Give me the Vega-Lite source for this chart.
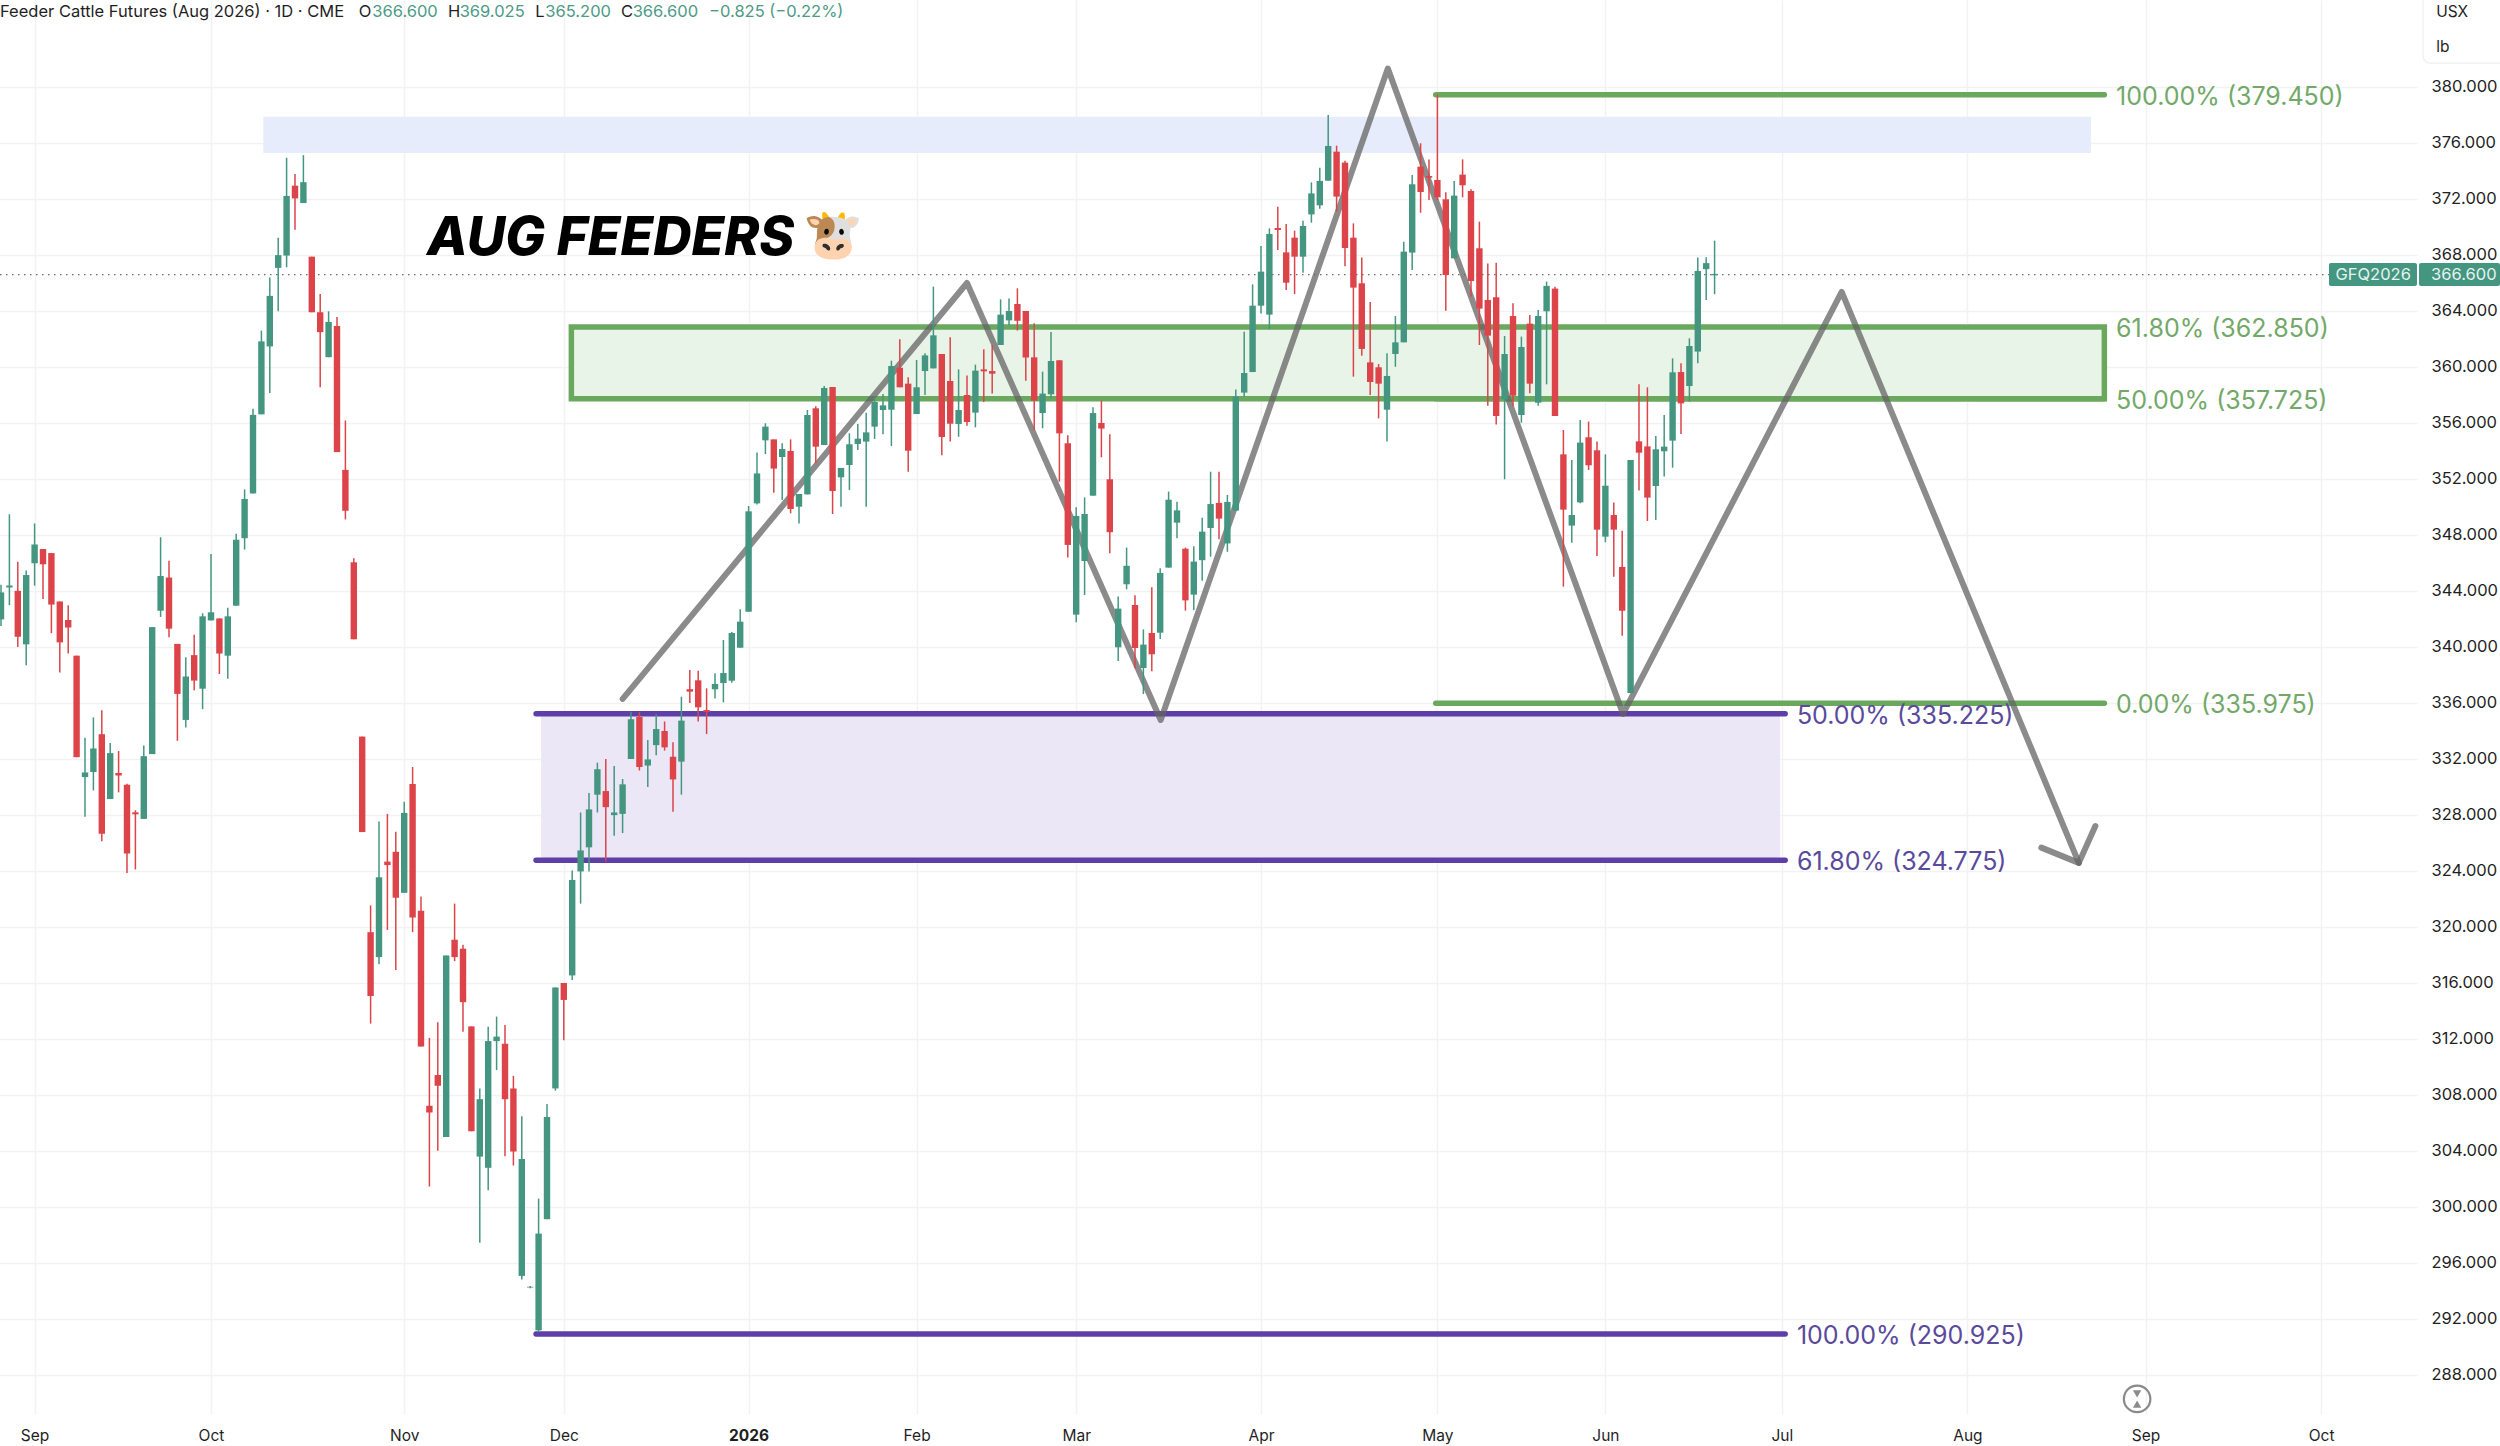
{
  "$schema": "https://vega.github.io/schema/vega-lite/v6.json",
  "width": 2417,
  "height": 1414,
  "autosize": {"type": "none"},
  "padding": {"left": 0, "top": 0, "right": 83, "bottom": 32},
  "background": "#ffffff",
  "config": {"view": {"stroke": null}, "text": {"font": "Inter"}},
  "datasets": {
    "candles": [
      {"bar":0,"o":341.97,"h":344.45,"l":341.5,"c":343.9},
      {"bar":1,"o":344.25,"h":349.48,"l":342.99,"c":344.4},
      {"bar":2,"o":344.01,"h":346.09,"l":340,"c":340.73},
      {"bar":3,"o":340.19,"h":345.47,"l":338.69,"c":345.14},
      {"bar":4,"o":345.98,"h":348.82,"l":344.38,"c":347.33},
      {"bar":5,"o":347,"h":347,"l":343.43,"c":345.91},
      {"bar":6,"o":346.71,"h":346.71,"l":340.99,"c":343.03},
      {"bar":7,"o":343.25,"h":343.25,"l":338.18,"c":340.33},
      {"bar":8,"o":341.93,"h":342.99,"l":339.53,"c":341.39},
      {"bar":9,"o":339.38,"h":339.38,"l":332.13,"c":332.13},
      {"bar":10,"o":330.71,"h":333.52,"l":327.87,"c":331.04},
      {"bar":11,"o":331.07,"h":334.97,"l":329.76,"c":332.75},
      {"bar":12,"o":333.77,"h":335.48,"l":326.12,"c":326.66},
      {"bar":13,"o":329.14,"h":333.15,"l":329.14,"c":332.42},
      {"bar":14,"o":331,"h":332.57,"l":329.62,"c":330.82},
      {"bar":15,"o":330.16,"h":330.24,"l":323.86,"c":325.25},
      {"bar":16,"o":328.19,"h":328.34,"l":324.11,"c":328.05},
      {"bar":17,"o":327.72,"h":332.97,"l":327.72,"c":332.2},
      {"bar":18,"o":332.35,"h":341.42,"l":332.35,"c":341.42},
      {"bar":19,"o":342.59,"h":347.84,"l":342.15,"c":345.07},
      {"bar":20,"o":344.96,"h":346.16,"l":340.7,"c":341.31},
      {"bar":21,"o":340.22,"h":340.22,"l":333.3,"c":336.65},
      {"bar":22,"o":334.79,"h":339.27,"l":334.25,"c":337.89},
      {"bar":23,"o":339.42,"h":340.88,"l":336.91,"c":337.6},
      {"bar":24,"o":337.02,"h":342.41,"l":335.56,"c":342.19},
      {"bar":25,"o":341.9,"h":346.64,"l":341.9,"c":342.48},
      {"bar":26,"o":342.04,"h":342.04,"l":338.07,"c":339.53},
      {"bar":27,"o":339.38,"h":342.81,"l":337.74,"c":342.19},
      {"bar":28,"o":342.95,"h":348.09,"l":342.95,"c":347.66},
      {"bar":29,"o":347.77,"h":351.26,"l":346.96,"c":350.57},
      {"bar":30,"o":350.97,"h":357.02,"l":350.97,"c":356.58},
      {"bar":31,"o":356.62,"h":362.6,"l":356.62,"c":361.83},
      {"bar":32,"o":361.47,"h":366.39,"l":358.15,"c":365.08},
      {"bar":33,"o":367.08,"h":369.23,"l":363.98,"c":367.99},
      {"bar":34,"o":367.96,"h":374.95,"l":367.12,"c":372.22},
      {"bar":35,"o":372.95,"h":373.79,"l":369.81,"c":372.04},
      {"bar":36,"o":371.71,"h":375.13,"l":371.71,"c":373.2},
      {"bar":37,"o":367.88,"h":367.88,"l":363.91,"c":363.91},
      {"bar":38,"o":363.91,"h":365.22,"l":358.55,"c":362.49},
      {"bar":39,"o":360.7,"h":363.98,"l":360.7,"c":363.22},
      {"bar":40,"o":362.93,"h":363.58,"l":353.92,"c":353.92},
      {"bar":41,"o":352.65,"h":356.18,"l":349.11,"c":349.73},
      {"bar":42,"o":346.05,"h":346.34,"l":340.55,"c":340.55},
      {"bar":43,"o":333.6,"h":333.6,"l":326.78,"c":326.78},
      {"bar":44,"o":319.63,"h":321.54,"l":313.1,"c":315.07},
      {"bar":45,"o":317.85,"h":327.54,"l":317.34,"c":323.55},
      {"bar":46,"o":324.67,"h":328.08,"l":319.79,"c":324.42},
      {"bar":47,"o":325.37,"h":326.81,"l":316.92,"c":322.09},
      {"bar":48,"o":322.44,"h":328.94,"l":322.44,"c":328.15},
      {"bar":49,"o":330.22,"h":331.43,"l":319.63,"c":320.68},
      {"bar":50,"o":321.16,"h":322.18,"l":311.47,"c":311.47},
      {"bar":51,"o":307.23,"h":312.08,"l":301.46,"c":306.75},
      {"bar":52,"o":309.43,"h":313.19,"l":304.01,"c":308.66},
      {"bar":53,"o":305,"h":317.97,"l":305,"c":317.97},
      {"bar":54,"o":319.09,"h":321.67,"l":317.56,"c":317.85},
      {"bar":55,"o":318.45,"h":318.74,"l":312.52,"c":314.63},
      {"bar":56,"o":312.9,"h":312.9,"l":305.41,"c":305.41},
      {"bar":57,"o":303.6,"h":308.47,"l":297.44,"c":307.7},
      {"bar":58,"o":302.8,"h":312.87,"l":301.2,"c":311.85},
      {"bar":59,"o":311.85,"h":313.6,"l":309.78,"c":312.17},
      {"bar":60,"o":311.66,"h":313,"l":303.63,"c":307.7},
      {"bar":61,"o":308.47,"h":309.37,"l":302.96,"c":303.97},
      {"bar":62,"o":295.08,"h":306.49,"l":294.82,"c":303.43},
      {"bar":63,"o":294.25,"h":294.35,"l":294.2,"c":294.3},
      {"bar":64,"o":291.19,"h":300.6,"l":291.06,"c":298.1},
      {"bar":65,"o":299.13,"h":307.36,"l":299.13,"c":306.43},
      {"bar":66,"o":308.47,"h":315.68,"l":308.31,"c":315.68},
      {"bar":67,"o":316,"h":316,"l":311.91,"c":314.79},
      {"bar":68,"o":316.54,"h":324.03,"l":316.22,"c":323.36},
      {"bar":69,"o":323.97,"h":328.18,"l":321.67,"c":325.47},
      {"bar":70,"o":325.69,"h":329.58,"l":323.97,"c":328.4},
      {"bar":71,"o":329.45,"h":331.74,"l":328.18,"c":331.27},
      {"bar":72,"o":329.71,"h":332,"l":324.67,"c":328.56},
      {"bar":73,"o":327.99,"h":331.5,"l":326.52,"c":328.18},
      {"bar":74,"o":328.08,"h":330.57,"l":326.71,"c":330.19},
      {"bar":75,"o":332,"h":335.38,"l":332,"c":334.84},
      {"bar":76,"o":335,"h":335.35,"l":331.18,"c":331.43},
      {"bar":77,"o":331.53,"h":333.36,"l":330,"c":331.97},
      {"bar":78,"o":332.99,"h":335.2,"l":332.26,"c":334.14},
      {"bar":79,"o":334,"h":334.68,"l":332.6,"c":332.83},
      {"bar":80,"o":332.16,"h":333.19,"l":328.24,"c":330.54},
      {"bar":81,"o":331.81,"h":336.45,"l":329.45,"c":334.74},
      {"bar":82,"o":336.99,"h":338.36,"l":336,"c":336.81},
      {"bar":83,"o":337.62,"h":338.31,"l":334.67,"c":335.69},
      {"bar":84,"o":335.5,"h":337.05,"l":333.78,"c":335.36},
      {"bar":85,"o":336.98,"h":338.12,"l":336.33,"c":337.36},
      {"bar":86,"o":337.43,"h":340.5,"l":336.05,"c":338.14},
      {"bar":87,"o":337.59,"h":341.07,"l":337.45,"c":341},
      {"bar":88,"o":339.95,"h":342.69,"l":339.95,"c":341.81},
      {"bar":89,"o":342.52,"h":350.07,"l":342.52,"c":349.69},
      {"bar":90,"o":350.26,"h":353.9,"l":350.17,"c":352.4},
      {"bar":91,"o":354.76,"h":355.98,"l":353.78,"c":355.74},
      {"bar":92,"o":354.83,"h":354.83,"l":351.02,"c":352.74},
      {"bar":93,"o":353.57,"h":354.55,"l":350.5,"c":354.14},
      {"bar":94,"o":354,"h":354.83,"l":349.55,"c":349.86},
      {"bar":95,"o":350.02,"h":350.93,"l":348.83,"c":350.93},
      {"bar":96,"o":350.9,"h":356.93,"l":350.9,"c":356.57},
      {"bar":97,"o":357.05,"h":357.2,"l":353.12,"c":354.31},
      {"bar":98,"o":354.43,"h":358.64,"l":354.43,"c":358.5},
      {"bar":99,"o":358.57,"h":358.57,"l":349.5,"c":351.14},
      {"bar":100,"o":352.12,"h":352.79,"l":350.02,"c":352.79},
      {"bar":101,"o":353,"h":355.26,"l":351.21,"c":354.48},
      {"bar":102,"o":354.5,"h":355.93,"l":354.07,"c":354.88},
      {"bar":103,"o":354.67,"h":356.74,"l":350.02,"c":355.33},
      {"bar":104,"o":355.74,"h":357.88,"l":354.86,"c":357.5},
      {"bar":105,"o":356.93,"h":358.07,"l":355.19,"c":357.26},
      {"bar":106,"o":356.95,"h":360.45,"l":354.36,"c":360.07},
      {"bar":107,"o":359.95,"h":361.98,"l":358.55,"c":358.55},
      {"bar":108,"o":358.81,"h":359.26,"l":352.52,"c":354.02},
      {"bar":109,"o":356.64,"h":360.5,"l":356.64,"c":358.55},
      {"bar":110,"o":359.71,"h":360.98,"l":358,"c":360.83},
      {"bar":111,"o":359.9,"h":365.74,"l":359.9,"c":362.26},
      {"bar":112,"o":360.93,"h":360.93,"l":353.7,"c":355},
      {"bar":113,"o":359,"h":362.12,"l":354.67,"c":355.95},
      {"bar":114,"o":355.93,"h":359.83,"l":355.02,"c":356.93},
      {"bar":115,"o":358,"h":359.4,"l":355.8,"c":356.07},
      {"bar":116,"o":356.74,"h":360.17,"l":355.69,"c":359.74},
      {"bar":117,"o":359.83,"h":361.26,"l":357.5,"c":359.69},
      {"bar":118,"o":359.71,"h":361.57,"l":358.11,"c":359.52},
      {"bar":119,"o":361.57,"h":364.83,"l":361.57,"c":363.74},
      {"bar":120,"o":363.33,"h":364.9,"l":362.98,"c":364},
      {"bar":121,"o":364.5,"h":365.62,"l":362.6,"c":363.3},
      {"bar":122,"o":364,"h":364,"l":359.02,"c":360.67},
      {"bar":123,"o":360.69,"h":363.12,"l":355.5,"c":357.6},
      {"bar":124,"o":356.71,"h":359.67,"l":355.62,"c":358.1},
      {"bar":125,"o":358.05,"h":362.5,"l":357.76,"c":360.43},
      {"bar":126,"o":360.48,"h":360.48,"l":351.81,"c":355.26},
      {"bar":127,"o":354.55,"h":355.12,"l":346.4,"c":347.29},
      {"bar":128,"o":342.31,"h":349.98,"l":341.76,"c":349.36},
      {"bar":129,"o":346.14,"h":350.69,"l":343.71,"c":349.5},
      {"bar":130,"o":350.81,"h":357.12,"l":350.81,"c":356.71},
      {"bar":131,"o":356,"h":357.6,"l":353.55,"c":355.6},
      {"bar":132,"o":351.98,"h":355.2,"l":346.69,"c":348.2},
      {"bar":133,"o":339.98,"h":343.6,"l":339,"c":342.74},
      {"bar":134,"o":344.48,"h":347.1,"l":344.12,"c":345.8},
      {"bar":135,"o":343,"h":343.69,"l":338.48,"c":339.93},
      {"bar":136,"o":338.5,"h":341.26,"l":336.64,"c":340.17},
      {"bar":137,"o":341,"h":344.26,"l":338.26,"c":339.48},
      {"bar":138,"o":341.02,"h":345.62,"l":340.57,"c":345.29},
      {"bar":139,"o":345.67,"h":351.1,"l":345.67,"c":350.52},
      {"bar":140,"o":348.88,"h":350.38,"l":347.76,"c":349.76},
      {"bar":141,"o":347.02,"h":347.1,"l":342.6,"c":343.33},
      {"bar":142,"o":343.74,"h":347.2,"l":342.64,"c":346.1},
      {"bar":143,"o":346.2,"h":349.24,"l":344.74,"c":348.24},
      {"bar":144,"o":348.5,"h":352.52,"l":346.45,"c":350.21},
      {"bar":145,"o":350.29,"h":352.52,"l":347.69,"c":349.17},
      {"bar":146,"o":347.4,"h":350.86,"l":346.8,"c":350.36},
      {"bar":147,"o":349.74,"h":358.4,"l":349.74,"c":357.88},
      {"bar":148,"o":358.17,"h":362.52,"l":357.88,"c":359.57},
      {"bar":149,"o":359.64,"h":365.9,"l":359.64,"c":364.38},
      {"bar":150,"o":364.38,"h":368.64,"l":363.83,"c":366.81},
      {"bar":151,"o":363.74,"h":369.9,"l":362.69,"c":369.5},
      {"bar":152,"o":369.93,"h":371.45,"l":368.36,"c":369.79},
      {"bar":153,"o":368.19,"h":370.21,"l":365.5,"c":366.02},
      {"bar":154,"o":369.24,"h":369.74,"l":365.21,"c":367.88},
      {"bar":155,"o":367.88,"h":370.45,"l":366.74,"c":370.07},
      {"bar":156,"o":370.9,"h":373.19,"l":370.31,"c":372.4},
      {"bar":157,"o":371.55,"h":374.24,"l":371.31,"c":373.29},
      {"bar":158,"o":373.31,"h":378,"l":373.31,"c":375.79},
      {"bar":159,"o":375.38,"h":375.81,"l":371.1,"c":372.17},
      {"bar":160,"o":374.6,"h":374.74,"l":367.2,"c":368.5},
      {"bar":161,"o":369.24,"h":370.26,"l":359.31,"c":365.67},
      {"bar":162,"o":365.98,"h":367.83,"l":360.81,"c":361.29},
      {"bar":163,"o":360.33,"h":364.64,"l":358,"c":358.93},
      {"bar":164,"o":359.98,"h":360.21,"l":356.33,"c":358.81},
      {"bar":165,"o":356.95,"h":360.98,"l":354.67,"c":359.36},
      {"bar":166,"o":360.93,"h":363.64,"l":360.02,"c":361.76},
      {"bar":167,"o":361.76,"h":368.95,"l":361.76,"c":368.24},
      {"bar":168,"o":368.17,"h":373.71,"l":366.93,"c":373.05},
      {"bar":169,"o":374.31,"h":375.98,"l":371.02,"c":372.5},
      {"bar":170,"o":373.64,"h":374.83,"l":371.93,"c":373.52},
      {"bar":171,"o":373.36,"h":379.45,"l":371.93,"c":372.12},
      {"bar":172,"o":371.98,"h":372.48,"l":364.02,"c":366.57},
      {"bar":173,"o":367.76,"h":373.29,"l":367.76,"c":372.24},
      {"bar":174,"o":373.74,"h":374.83,"l":372.12,"c":372.98},
      {"bar":175,"o":372.57,"h":372.69,"l":365.02,"c":366.14},
      {"bar":176,"o":368.48,"h":370.38,"l":361.57,"c":364.17},
      {"bar":177,"o":364.79,"h":367.4,"l":357.24,"c":362.24},
      {"bar":178,"o":364.98,"h":367.45,"l":355.9,"c":356.5},
      {"bar":179,"o":357.69,"h":362.21,"l":351.98,"c":360.93},
      {"bar":180,"o":363.64,"h":364.55,"l":357.2,"c":357.95},
      {"bar":181,"o":356.57,"h":362.17,"l":356.02,"c":361.43},
      {"bar":182,"o":363.1,"h":363.71,"l":358.12,"c":358.81},
      {"bar":183,"o":357.45,"h":364.07,"l":357.24,"c":363.64},
      {"bar":184,"o":363.98,"h":366.1,"l":358.76,"c":365.79},
      {"bar":185,"o":365.6,"h":365.74,"l":356.5,"c":356.5},
      {"bar":186,"o":353.76,"h":355.5,"l":344.31,"c":349.81},
      {"bar":187,"o":348.67,"h":353.36,"l":347.45,"c":349.43},
      {"bar":188,"o":350.33,"h":356.21,"l":350.26,"c":354.6},
      {"bar":189,"o":354.98,"h":356.1,"l":352.64,"c":352.98},
      {"bar":190,"o":354.05,"h":354.67,"l":346.5,"c":348.38},
      {"bar":191,"o":347.88,"h":353.76,"l":347.48,"c":351.52},
      {"bar":192,"o":349.43,"h":350.33,"l":345.02,"c":348.38},
      {"bar":193,"o":345.72,"h":348.3,"l":340.81,"c":342.59},
      {"bar":194,"o":336.72,"h":353.36,"l":336.72,"c":353.36},
      {"bar":195,"o":354.69,"h":358.76,"l":351.17,"c":353.88},
      {"bar":196,"o":354.33,"h":358.55,"l":349,"c":350.67},
      {"bar":197,"o":351.5,"h":355.07,"l":349.07,"c":354.12},
      {"bar":198,"o":353.98,"h":356.57,"l":352.17,"c":354.31},
      {"bar":199,"o":354.74,"h":360.62,"l":352.81,"c":359.62},
      {"bar":200,"o":359.64,"h":360.26,"l":355.21,"c":357.4},
      {"bar":201,"o":358.64,"h":362.05,"l":357.52,"c":361.5},
      {"bar":202,"o":361.1,"h":367.83,"l":360.26,"c":366.86},
      {"bar":203,"o":366.99,"h":367.84,"l":364.79,"c":367.42},
      {"bar":204,"o":366.55,"h":369.025,"l":365.2,"c":366.65}
    ],
    "swing": [
      {"path":"main","seq":1,"bar":74.01,"price":336.29},
      {"path":"main","seq":2,"bar":115,"price":366},
      {"path":"main","seq":3,"bar":138.06,"price":334.79},
      {"path":"main","seq":4,"bar":165.1,"price":381.32},
      {"path":"main","seq":5,"bar":193.1,"price":335.22},
      {"path":"main","seq":6,"bar":219.13,"price":365.36},
      {"path":"main","seq":7,"bar":247.36,"price":324.58},
      {"path":"head","seq":1,"bar":242.9,"price":325.67},
      {"path":"head","seq":2,"bar":247.36,"price":324.58},
      {"path":"head","seq":3,"bar":249.33,"price":327.21}
    ]
  },
  "encoding": {
    "x": {
      "field": "bar",
      "type": "quantitative",
      "scale": {"domain": [-0.119, 287.62], "nice": false, "zero": false, "padding": 0},
      "axis": {
        "title": null,
        "values": [4, 25, 48, 67, 89, 109, 128, 150, 171, 191, 212, 234.1, 255.3, 276.2],
        "labelExpr": "{'4':'Sep','25':'Oct','48':'Nov','67':'Dec','89':'2026','109':'Feb','128':'Mar','150':'Apr','171':'May','191':'Jun','212':'Jul','234.1':'Aug','255.3':'Sep','276.2':'Oct'}[datum.value]",
        "labelFont": "Inter",
        "labelFontSize": 15.5,
        "labelFontWeight": {"condition": {"test": "datum.value == 89", "value": "bold"}, "value": "normal"},
        "labelColor": "#1f1f1f",
        "labelPadding": 14,
        "labelOverlap": false,
        "labelFlush": false,
        "domain": false,
        "ticks": false,
        "grid": true,
        "gridColor": "#f1f2f4",
        "gridWidth": 1.5
      }
    },
    "y": {
      "field": "price",
      "type": "quantitative",
      "scale": {"domain": [285.214, 386.214], "nice": false, "zero": false},
      "axis": {
        "title": null,
        "orient": "right",
        "values": [288,292,296,300,304,308,312,316,320,324,328,332,336,340,344,348,352,356,360,364,368,372,376,380],
        "format": ".3f",
        "labelFont": "Inter",
        "labelFontSize": 16.5,
        "labelColor": "#1f1f1f",
        "labelPadding": 14,
        "domain": false,
        "ticks": false,
        "grid": true,
        "gridColor": "#f1f2f4",
        "gridWidth": 1.5
      }
    }
  },
  "layer": [
    {
      "data": {"values": [{"bar": 31.23, "bar2": 248.8, "price": 377.87, "price2": 375.29}]},
      "mark": {"type": "rect", "color": "#e6ecfb"},
      "encoding": {"x2": {"field": "bar2"}, "y2": {"field": "price2"}}
    },
    {
      "data": {"values": [{"bar": 64.3, "bar2": 211.8, "price": 335.225, "price2": 324.775}]},
      "mark": {"type": "rect", "color": "#ebe7f6"},
      "encoding": {"x2": {"field": "bar2"}, "y2": {"field": "price2"}}
    },
    {
      "data": {"values": [{"bar": 67.9, "bar2": 250.4, "price": 362.85, "price2": 357.725}]},
      "mark": {"type": "rect", "fill": "#e9f4e8", "stroke": "#6aa85e", "strokeWidth": 5.5},
      "encoding": {"x2": {"field": "bar2"}, "y2": {"field": "price2"}}
    },
    {
      "data": {"values": [
        {"bar": 170.8, "bar2": 250.4, "price": 379.45},
        {"bar": 170.8, "bar2": 250.4, "price": 357.725},
        {"bar": 170.8, "bar2": 250.4, "price": 335.975}
      ]},
      "mark": {"type": "rule", "color": "#6aa85e", "strokeWidth": 5.5, "strokeCap": "round"},
      "encoding": {"x2": {"field": "bar2"}}
    },
    {
      "data": {"values": [
        {"bar": 63.7, "bar2": 212.4, "price": 335.225},
        {"bar": 63.7, "bar2": 212.4, "price": 324.775},
        {"bar": 63.7, "bar2": 212.4, "price": 290.925}
      ]},
      "mark": {"type": "rule", "color": "#5e3fa8", "strokeWidth": 5.5, "strokeCap": "round"},
      "encoding": {"x2": {"field": "bar2"}}
    },
    {
      "data": {"values": [{"bar": -0.119, "bar2": 277.14, "price": 366.6}]},
      "mark": {"type": "rule", "color": "#6b6b6b", "strokeWidth": 1.2, "strokeDash": [1.5, 4.5]},
      "encoding": {"x2": {"field": "bar2"}}
    },
    {
      "data": {"name": "swing"},
      "mark": {"type": "line", "color": "#646464", "opacity": 0.75, "strokeWidth": 6, "strokeCap": "round", "strokeJoin": "round"},
      "encoding": {"detail": {"field": "path"}, "order": {"field": "seq"}}
    },
    {
      "data": {"name": "candles"},
      "mark": {"type": "rule", "strokeWidth": 1.5},
      "encoding": {
        "y": {"field": "h", "type": "quantitative", "scale": {"domain": [285.214, 386.214], "nice": false, "zero": false}, "axis": {"title": null, "orient": "right"}},
        "y2": {"field": "l"},
        "color": {"condition": {"test": "datum.c >= datum.o", "value": "#449681"}, "value": "#dc4449"}
      }
    },
    {
      "data": {"name": "candles"},
      "mark": {"type": "bar", "size": 6.4, "orient": "vertical"},
      "encoding": {
        "y": {"field": "o", "type": "quantitative", "scale": {"domain": [285.214, 386.214], "nice": false, "zero": false}, "axis": {"title": null, "orient": "right"}},
        "y2": {"field": "c"},
        "color": {"condition": {"test": "datum.c >= datum.o", "value": "#449681"}, "value": "#dc4449"}
      }
    },
    {
      "data": {"values": [
        {"bar": 251.8, "price": 379.45, "label": "100.00% (379.450)"},
        {"bar": 251.8, "price": 362.85, "label": "61.80% (362.850)"},
        {"bar": 251.8, "price": 357.725, "label": "50.00% (357.725)"},
        {"bar": 251.8, "price": 335.975, "label": "0.00% (335.975)"}
      ]},
      "mark": {"type": "text", "align": "left", "baseline": "middle", "dy": 2, "fontSize": 25, "color": "#72a968"},
      "encoding": {"text": {"field": "label"}}
    },
    {
      "data": {"values": [
        {"bar": 213.8, "price": 335.225, "label": "50.00% (335.225)"},
        {"bar": 213.8, "price": 324.775, "label": "61.80% (324.775)"},
        {"bar": 213.8, "price": 290.925, "label": "100.00% (290.925)"}
      ]},
      "mark": {"type": "text", "align": "left", "baseline": "middle", "dy": 2, "fontSize": 25, "color": "#5a4a9c"},
      "encoding": {"text": {"field": "label"}}
    },
    {
      "data": {"values": [{"bar": 50.72, "price": 368, "label": "AUG FEEDERS"}]},
      "mark": {"type": "text", "align": "left", "baseline": "alphabetic", "fontSize": 53, "fontStyle": "italic", "fontWeight": 800, "color": "#000000"},
      "encoding": {"text": {"field": "label"}}
    },
    {
      "data": {"values": [{"bar": 95.5, "price": 369.3, "label": "🐮"}]},
      "mark": {"type": "text", "align": "left", "baseline": "middle", "fontSize": 48},
      "encoding": {"text": {"field": "label"}}
    },
    {
      "data": {"values": [
        {"bar": -0.119, "price": 385.36, "label": "Feeder Cattle Futures (Aug 2026) · 1D · CME"},
        {"bar": 42.6, "price": 385.36, "label": "O"},
        {"bar": 53.2, "price": 385.36, "label": "H"},
        {"bar": 63.6, "price": 385.36, "label": "L"},
        {"bar": 73.8, "price": 385.36, "label": "C"}
      ]},
      "mark": {"type": "text", "align": "left", "baseline": "middle", "fontSize": 16.5, "color": "#1f1f1f"},
      "encoding": {"text": {"field": "label"}}
    },
    {
      "data": {"values": [
        {"bar": 44.2, "price": 385.36, "label": "366.600"},
        {"bar": 54.6, "price": 385.36, "label": "369.025"},
        {"bar": 64.8, "price": 385.36, "label": "365.200"},
        {"bar": 75.2, "price": 385.36, "label": "366.600"},
        {"bar": 84.3, "price": 385.36, "label": "−0.825 (−0.22%)"}
      ]},
      "mark": {"type": "text", "align": "left", "baseline": "middle", "fontSize": 16.5, "color": "#4d9a86"},
      "encoding": {"text": {"field": "label"}}
    },
    {
      "data": {"values": [
        {"bar": 277.14, "bar2": 287.62, "price": 367.43, "price2": 365.79},
        {"bar": 287.86, "bar2": 297.5, "price": 367.43, "price2": 365.79}
      ]},
      "mark": {"type": "rect", "color": "#449681", "cornerRadius": 2},
      "encoding": {"x2": {"field": "bar2"}, "y2": {"field": "price2"}}
    },
    {
      "data": {"values": [{"bar": 282.4, "price": 366.6, "label": "GFQ2026"}]},
      "mark": {"type": "text", "align": "center", "baseline": "middle", "fontSize": 16.5, "color": "#e6f3ef"},
      "encoding": {"text": {"field": "label"}}
    },
    {
      "data": {"values": [{"bar": 289.3, "price": 366.6, "label": "366.600"}]},
      "mark": {"type": "text", "align": "left", "baseline": "middle", "fontSize": 16.5, "color": "#e6f3ef"},
      "encoding": {"text": {"field": "label"}}
    },
    {
      "data": {"values": [{"bar": 288.33, "bar2": 299, "price": 386.6, "price2": 381.71}]},
      "mark": {"type": "rect", "fill": "#ffffff", "stroke": "#efeff1", "strokeWidth": 1.2, "cornerRadius": 7},
      "encoding": {"x2": {"field": "bar2"}, "y2": {"field": "price2"}}
    },
    {
      "data": {"values": [
        {"bar": 289.9, "price": 385.36, "label": "USX"},
        {"bar": 289.9, "price": 382.86, "label": "lb"}
      ]},
      "mark": {"type": "text", "align": "left", "baseline": "middle", "fontSize": 15.5, "color": "#1f1f1f"},
      "encoding": {"text": {"field": "label"}}
    },
    {
      "data": {"values": [{"bar": 254.3, "price": 286.29}]},
      "mark": {"type": "point", "shape": "circle", "filled": false, "size": 700, "stroke": "#5a5a5a", "strokeWidth": 2.2}
    },
    {
      "data": {"values": [{"bar": 254.3, "price": 286.66}]},
      "mark": {"type": "point", "shape": "triangle-down", "filled": true, "size": 70, "color": "#5a5a5a"}
    },
    {
      "data": {"values": [{"bar": 254.3, "price": 285.92}]},
      "mark": {"type": "point", "shape": "triangle-up", "filled": true, "size": 70, "color": "#5a5a5a"}
    }
  ]
}
